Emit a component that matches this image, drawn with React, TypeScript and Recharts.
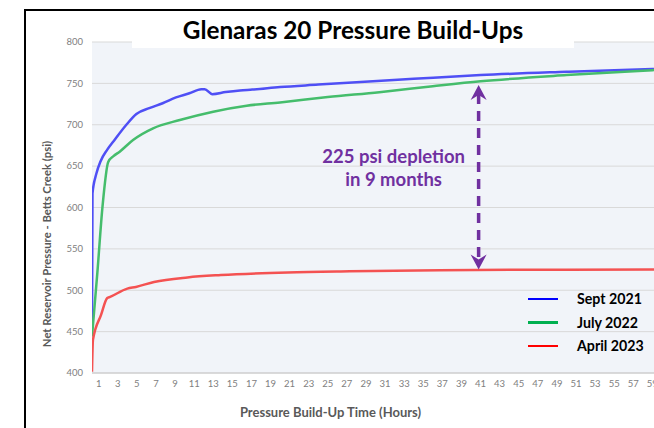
import { CartesianGrid, Label, Legend, Line, LineChart, ReferenceLine, XAxis, YAxis } from 'recharts';

const hourTicks = [1, 3, 5, 7, 9, 11, 13, 15, 17, 19, 21, 23, 25, 27, 29, 31, 33, 35, 37, 39, 41, 43, 45, 47, 49, 51, 53, 55, 57, 59];
const psiTicks = [400, 450, 500, 550, 600, 650, 700, 750, 800];

const sept2021Hours = [0.3, 0.35, 0.76, 1.2, 1.9, 2.68, 3.9, 4.95, 6.3, 7.7, 9.1, 10.5, 11.75, 12.1, 12.9, 14.3, 15.8, 17.1, 20, 24, 28, 34, 41, 50, 59, 62];
const sept2021Psi = [455, 617, 641, 656, 670, 682, 700, 713, 720, 726, 733, 738, 743, 743, 737, 739.5, 741.5, 742.5, 745.5, 748.5, 751.5, 755.5, 760, 764, 767.4, 768.3];

const july2022Hours = [0.3, 0.86, 1.4, 2.0, 2.55, 3.2, 4.6, 6.7, 9.5, 13, 16.5, 20, 25, 30.4, 36, 41, 50, 59, 62];
const july2022Psi = [444, 521, 601, 655, 662, 667.5, 681.6, 695.7, 705.7, 715.8, 723, 727, 733.5, 739.3, 746.5, 752.5, 760, 766, 768];

const april2023Hours = [0.3, 0.4, 1.24, 1.9, 2.2, 4.0, 4.9, 6.8, 10.3, 13.8, 20.8, 27.3, 36.7, 50, 62];
const april2023Psi = [401.5, 440, 470, 490.6, 492, 502, 504, 510, 515.5, 518.4, 521.6, 523, 524.3, 524.8, 525];

const depletionHour = 40.8;
const depletionFrom = 525;
const depletionTo = 748;

const toRows = (hours: number[], psi: number[]) => hours.map((h, i) => ({ h, psi: psi[i] }));

const series = [
  { name: 'Sept 2021', data: toRows(sept2021Hours, sept2021Psi), stroke: '#4f4ff5', key: '#0000ff' },
  { name: 'July 2022', data: toRows(july2022Hours, july2022Psi), stroke: '#45bd6c', key: '#00b050' },
  { name: 'April 2023', data: toRows(april2023Hours, april2023Psi), stroke: '#f45252', key: '#ff0000' },
];

const FONT = 'Lato, "Open Sans", sans-serif';
const PURPLE = '#7030a0';

function DepletionArrow(props: any) {
  const { x1, y1, y2 } = props;
  const top = Math.min(y1, y2);
  const bottom = Math.max(y1, y2);
  const x = x1;
  return (
    <g>
      <line x1={x} y1={top + 9} x2={x} y2={bottom - 9} stroke={PURPLE} strokeWidth={3.5} strokeDasharray="10 7" />
      <path d={`M${x},${top} L${x + 8},${top + 15} L${x},${top + 10} L${x - 8},${top + 15} Z`} fill={PURPLE} />
      <path d={`M${x},${bottom} L${x + 8},${bottom - 15} L${x},${bottom - 10} L${x - 8},${bottom - 15} Z`} fill={PURPLE} />
      <text x={x - 85} y={top + 78} textAnchor="middle" fill={PURPLE} fontFamily={FONT} fontWeight={700} fontSize={18.5}>
        225 psi depletion
      </text>
      <text x={x - 85} y={top + 101} textAnchor="middle" fill={PURPLE} fontFamily={FONT} fontWeight={700} fontSize={18.5}>
        in 9 months
      </text>
    </g>
  );
}

function YTitle() {
  return (
    <text
      x={46}
      y={244}
      transform="rotate(-90 46 244)"
      textAnchor="middle"
      dominantBaseline="central"
      fontFamily={FONT}
      fontWeight={700}
      fontSize={11.3}
      fill="#595959"
    >
      Net Reservoir Pressure - Betts Creek (psi)
    </text>
  );
}

function KeyBox() {
  return (
    <div style={{ fontFamily: FONT }}>
      {series.map((s) => (
        <div key={s.name} style={{ display: 'flex', alignItems: 'center', height: 23.5 }}>
          <div style={{ width: 30, height: 2.5, background: s.key, marginRight: 19 }} />
          <span style={{ fontSize: 14.2, fontWeight: 700, color: '#000' }}>{s.name}</span>
        </div>
      ))}
    </div>
  );
}

export default function App() {
  return (
    <div style={{ position: 'absolute', left: 0, top: 0, width: 654, height: 428, overflow: 'hidden', background: '#fff' }}>
      <LineChart width={681} height={428} margin={{ top: 42, right: 0, bottom: 0, left: 0 }}>
        <CartesianGrid vertical={false} stroke="#d9d9d9" fill="#f1f4f9" />
        <XAxis
          type="number"
          dataKey="h"
          domain={[0.3, 62]}
          ticks={hourTicks}
          interval={0}
          allowDataOverflow
          height={55}
          tickLine={false}
          tickMargin={1}
          axisLine={{ stroke: '#c8c8c8' }}
          tick={{ fontSize: 9.5, fill: '#808080', fontFamily: FONT }}
          label={{
            value: 'Pressure Build-Up Time (Hours)',
            position: 'insideBottom',
            offset: 11,
            dx: -56,
            style: { fontSize: 13, fontWeight: 700, fill: '#595959', fontFamily: FONT },
          }}
        />
        <YAxis
          type="number"
          dataKey="psi"
          domain={[400, 800]}
          ticks={psiTicks}
          interval={0}
          width={92}
          tickLine={false}
          axisLine={false}
          tickMargin={3}
          tick={{ fontSize: 9.5, fill: '#808080', fontFamily: FONT }}
        >
          <Label content={YTitle} />
        </YAxis>
        {series.map((s) => (
          <Line
            key={s.name}
            data={s.data}
            dataKey="psi"
            name={s.name}
            type="monotone"
            stroke={s.stroke}
            strokeWidth={2.5}
            dot={false}
            activeDot={false}
            isAnimationActive={false}
          />
        ))}
        <ReferenceLine
          segment={[
            { x: depletionHour, y: depletionFrom },
            { x: depletionHour, y: depletionTo },
          ]}
          shape={DepletionArrow}
        />
        <Legend
          layout="vertical"
          align="center"
          verticalAlign="middle"
          content={() => <KeyBox />}
          wrapperStyle={{ left: 528, top: 287, width: 130 }}
        />
      </LineChart>
      <div
        style={{
          position: 'absolute',
          left: 132,
          top: 11,
          width: 442,
          height: 37,
          background: '#fff',
          display: 'flex',
          alignItems: 'center',
          justifyContent: 'center',
          fontFamily: FONT,
          fontWeight: 700,
          fontSize: 24.3,
          color: '#000',
        }}
      >
        Glenaras 20 Pressure Build-Ups
      </div>
      <div
        style={{
          position: 'absolute',
          left: 24,
          top: 9,
          width: 700,
          height: 500,
          border: '2px solid #000',
          pointerEvents: 'none',
        }}
      />
    </div>
  );
}
